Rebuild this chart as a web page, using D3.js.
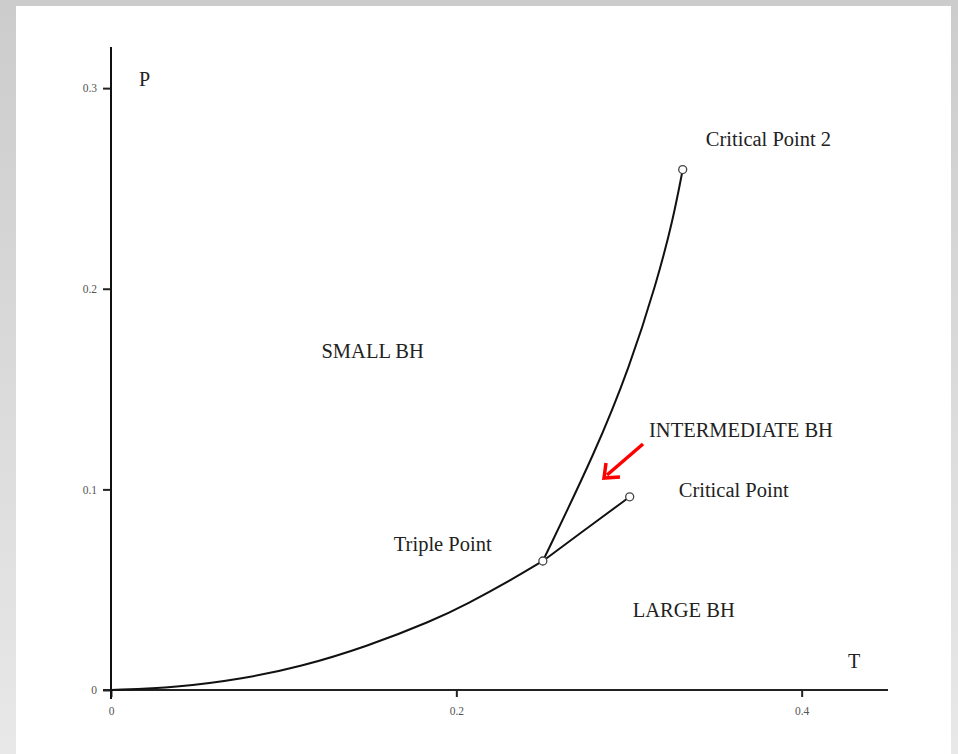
<!DOCTYPE html>
<html>
<head>
<meta charset="utf-8">
<script src="https://cdn.jsdelivr.net/npm/d3@7"></script>
<style>
  html, body { margin: 0; padding: 0; }
  body {
    width: 958px; height: 754px; overflow: hidden;
    background: linear-gradient(to bottom, #cccccc, #e8e8e8);
  }
  #panel { position: absolute; left: 16px; top: 6px; width: 935px; height: 748px; background: #fff; }
  svg { position: absolute; left: 0; top: 0; }
  text { font-family: "Liberation Serif", "Times New Roman", serif; }
</style>
</head>
<body>
<div id="panel"></div>
<svg id="chart" width="958" height="754"></svg>
<script>
(function() {

    // small BH / large BH coexistence line, origin -> triple point
    var coexT = [0, 0.038, 0.0766, 0.1094, 0.148, 0.1864, 0.2059, 0.2329, 0.2501];
    var coexP = [0, 0.0012, 0.0056, 0.0115, 0.0216, 0.0346, 0.0427, 0.0554, 0.0643];
    // intermediate / large line, triple point -> critical point
    var lowT = [0.2501, 0.275, 0.3004];
    var lowP = [0.0643, 0.0802, 0.0963];
    // small / intermediate line, triple point -> critical point 2
    var upT = [0.2501, 0.2811, 0.3004, 0.3159, 0.3255, 0.3311];
    var upP = [0.0643, 0.1197, 0.1612, 0.2028, 0.2344, 0.2594];
    // marked points: triple point, critical point, critical point 2
    var markT = [0.2501, 0.3004, 0.3311];
    var markP = [0.0643, 0.0963, 0.2594];

    var xTicks = [0, 0.2, 0.4];
    var yTicks = [0, 0.1, 0.2, 0.3];

    var regions = [
        { t: 'SMALL BH', x: 0.1219, y: 0.1654 },
        { t: 'INTERMEDIATE BH', x: 0.3116, y: 0.1262 },
        { t: 'Critical Point 2', x: 0.3445, y: 0.2713 },
        { t: 'Critical Point', x: 0.3288, y: 0.0963 },
        { t: 'Triple Point', x: 0.1638, y: 0.0693 },
        { t: 'LARGE BH', x: 0.3022, y: 0.0364 }
    ];

    var x = d3.scaleLinear().domain([0, 0.45]).range([111, 888]);
    var y = d3.scaleLinear().domain([0, 0.32]).range([690, 48]);

    var svg = d3.select('#chart');

    var fmt = function(d) { return d === 0 ? '0' : d3.format('.1f')(d); };

    var xAxis = svg.append('g')
        .attr('transform', 'translate(0,690)')
        .call(d3.axisBottom(x).tickValues(xTicks).tickSize(7).tickPadding(10).tickFormat(fmt));
    var yAxis = svg.append('g')
        .attr('transform', 'translate(111,0)')
        .call(d3.axisLeft(y).tickValues(yTicks).tickSize(8).tickPadding(6).tickFormat(fmt));

    [xAxis, yAxis].forEach(function(g) {
        g.select('.domain').remove();
        g.selectAll('.tick line').attr('stroke', '#222').attr('stroke-width', 2);
        g.selectAll('.tick text')
            .attr('fill', '#555')
            .style('font-size', '11.5px')
            .style('font-family', '"Liberation Serif", serif');
    });

    // axis lines
    svg.append('line').attr('x1', 103).attr('x2', 888).attr('y1', 690).attr('y2', 690)
        .attr('stroke', '#222').attr('stroke-width', 2);
    svg.append('line').attr('x1', 111).attr('x2', 111).attr('y1', 47).attr('y2', 699)
        .attr('stroke', '#111').attr('stroke-width', 2);

    var line = d3.line()
        .x(function(d) { return x(d[0]); })
        .y(function(d) { return y(d[1]); })
        .curve(d3.curveBasis);

    function pairs(a, b) { return a.map(function(v, i) { return [v, b[i]]; }); }

    [pairs(coexT, coexP), pairs(lowT, lowP), pairs(upT, upP)].forEach(function(pts) {
        svg.append('path')
            .attr('d', line(pts))
            .attr('fill', 'none')
            .attr('stroke', '#111')
            .attr('stroke-width', 2);
    });

    svg.selectAll('circle.mark')
        .data(pairs(markT, markP))
        .enter()
        .append('circle')
        .attr('class', 'mark')
        .attr('cx', function(d) { return x(d[0]); })
        .attr('cy', function(d) { return y(d[1]); })
        .attr('r', 4)
        .attr('fill', '#fff')
        .attr('stroke', '#444')
        .attr('stroke-width', 1.3);

    // axis names
    svg.append('text').attr('x', 139).attr('y', 86).text('P')
        .style('font-size', '20px').attr('fill', '#222');
    svg.append('text').attr('x', 848).attr('y', 668).text('T')
        .style('font-size', '20px').attr('fill', '#222');

    svg.selectAll('text.region')
        .data(regions)
        .enter()
        .append('text')
        .attr('class', 'region')
        .attr('x', function(d) { return x(d.x); })
        .attr('y', function(d) { return y(d.y); })
        .attr('fill', '#222')
        .style('font-size', '20.5px')
        .text(function(d) { return d.t; });

    // red arrow pointing into the intermediate region
    var ax1 = 643, ay1 = 444, ax2 = 604, ay2 = 478;
    svg.append('line').attr('x1', ax1).attr('y1', ay1).attr('x2', ax2 + 3).attr('y2', ay2 - 3)
        .attr('stroke', '#f00').attr('stroke-width', 3.5);
    svg.append('path')
        .attr('d', 'M' + (ax2 + 2) + ',' + (ay2 - 15) + ' L' + ax2 + ',' + ay2 + ' L' + (ax2 + 16) + ',' + (ay2 - 1))
        .attr('fill', 'none').attr('stroke', '#f00').attr('stroke-width', 3.5)
        .attr('stroke-linejoin', 'miter');

})();
</script>
</body>
</html>
